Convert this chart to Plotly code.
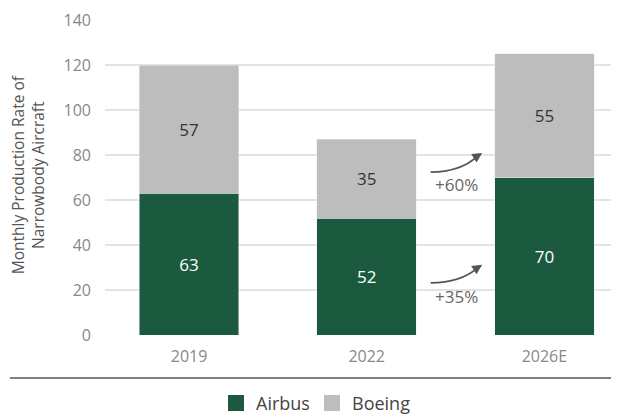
import plotly.graph_objects as go

categories = ["2019", "2022", "2026E"]
airbus = [63, 52, 70]
boeing = [57, 35, 55]
growth_labels = ["+35%", "+60%"]
y_ticks = [0, 20, 40, 60, 80, 100, 120, 140]

GREEN = "#1c5a40"
GRAY = "#bdbdbd"
FONT = "Open Sans, sans-serif"

xpos = list(range(len(categories)))

fig = go.Figure()
fig.add_trace(go.Bar(
    x=xpos, y=airbus, name="Airbus", marker_color=GREEN, width=0.56,
    text=[str(v) for v in airbus], textposition="inside", insidetextanchor="middle",
    textfont=dict(color="white", size=17, family=FONT), showlegend=False,
))
fig.add_trace(go.Bar(
    x=xpos, y=boeing, name="Boeing", marker_color=GRAY, width=0.56,
    text=[str(v) for v in boeing], textposition="inside", insidetextanchor="middle",
    textfont=dict(color="#333333", size=17, family=FONT), showlegend=False,
))

# curved growth arrows between 2022 and 2026E
arrow_specs = [
    (airbus[1] * 0.445, airbus[1] * 0.60, airbus[1] * 0.325, growth_labels[0]),
    (airbus[1] + boeing[1] * 0.583, airbus[1] + boeing[1] * 0.826, airbus[1] + boeing[1] * 0.42, growth_labels[1]),
]
x0, x1 = 1.36, 1.65
for ys, ye, yt, lab in arrow_specs:
    cx, cy = x0 + 0.17, ys + 0.2
    fig.add_shape(type="path", xref="x", yref="y",
                  path=f"M {x0},{ys} Q {cx},{cy} {x1 - 0.03},{ye - 1.6}",
                  line=dict(color="#555555", width=1.8))
    fig.add_annotation(x=x1, y=ye, ax=x1 - 0.05, ay=ye - 2.5, xref="x", yref="y",
                       axref="x", ayref="y", text="", showarrow=True,
                       arrowhead=2, arrowsize=1.1, arrowwidth=1.8, arrowcolor="#555555")
    fig.add_annotation(x=1.505, y=yt, xref="x", yref="y", text=lab, showarrow=False,
                       font=dict(size=17, color="#666666", family=FONT))

# y-axis title
fig.add_annotation(x=-0.15, y=0.51, xref="paper", yref="paper",
                   xanchor="center", yanchor="middle",
                   text="Monthly Production Rate of<br>Narrowbody Aircraft",
                   textangle=-90, showarrow=False,
                   font=dict(size=15.5, color="#555555", family=FONT))

# separator line above legend
fig.add_shape(type="line", xref="paper", yref="paper", x0=-0.185, x1=1.0,
              y0=-0.1365, y1=-0.1365, line=dict(color="#555555", width=1.5))

# legend drawn as squares + labels
legend_items = [("Airbus", GREEN, 0.2393), ("Boeing", GRAY, 0.4261)]
for name, color, lx in legend_items:
    fig.add_shape(type="rect", xref="paper", yref="paper",
                  x0=lx, x1=lx + 0.0311, y0=-0.2413, y1=-0.1905,
                  fillcolor=color, line=dict(width=0))
    fig.add_annotation(x=lx + 0.0506, y=-0.2159, xref="paper", yref="paper",
                       xanchor="left", yanchor="middle", text=name, showarrow=False,
                       font=dict(size=18, color="#444444", family=FONT))

fig.update_layout(
    width=611, height=409,
    margin=dict(l=97, r=0, t=12, b=82, autoexpand=False),
    barmode="stack",
    plot_bgcolor="white", paper_bgcolor="white",
    font=dict(family=FONT, color="#888888", size=14),
    showlegend=False,
    xaxis=dict(tickvals=xpos, ticktext=categories, range=[-0.473, 2.42],
               showgrid=False, zeroline=False, showline=False,
               ticklabelstandoff=10,
               tickfont=dict(size=16, color="#888888")),
    yaxis=dict(range=[0, 140], tickvals=y_ticks, showgrid=True, gridcolor="#e3e3e3",
               gridwidth=1.5, zeroline=False, showline=False, ticks="",
               ticklabelstandoff=13, tickfont=dict(size=16, color="#888888")),
)

fig.write_html("out.html")
